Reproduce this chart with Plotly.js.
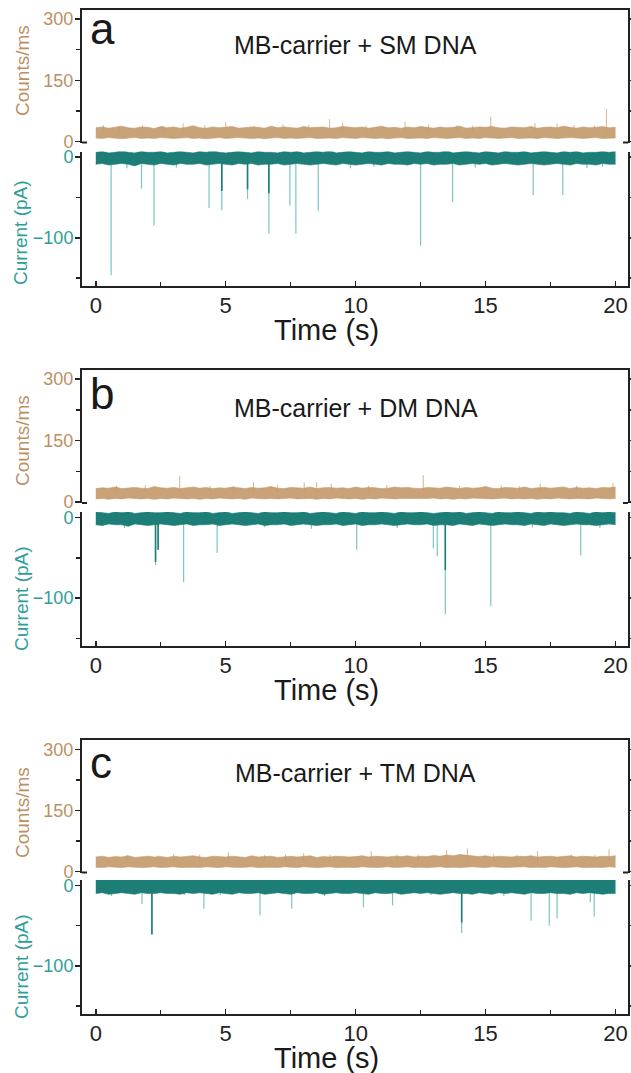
<!DOCTYPE html>
<html>
<head>
<meta charset="utf-8">
<script src="https://cdn.plot.ly/plotly-3.0.1.min.js"></script>
<style>
  html, body { margin: 0; padding: 0; background: #fff; }
  #chart { width: 631px; height: 1073px; }
</style>
</head>
<body>
<div id="chart"></div>
<script>
// ---------------- data ----------------
// Sampling step of the noise envelopes (s); envelopes start at t = 0.
const envelopeStart = 0;
const envelopeStep = 0.25;

const panelLetters = ['a', 'b', 'c'];
const panelTitles = ['MB-carrier + SM DNA', 'MB-carrier + DM DNA', 'MB-carrier + TM DNA'];

const countsTicks = [0, 150, 300];
const countsMinorTicks = [75, 225];
const currentTicks = [0, -100];
const currentMinorTicks = [-50, -150];

// Photon counts (counts/ms): upper / lower envelope of the noise band
const countsHiA = [34,36,33,35,38,34,33,36,35,32, 37,34,36,33,35,39,34,33,36,34, 35,37,33,34,36,35,33,38,34,36,
  35,33,37,34,35,36,33,34,37,35, 34,36,33,35,38,34,35,33,36,34, 37,35,33,36,34,35,38,33,34,36,
  35,37,34,33,36,35,34,37,33,35, 36,34,38,35,33,36,34,35,37,34, 35];
const countsLoA = [9,8,10,9,7,9,10,8,9,8, 10,9,8,9,10,8,9,7,9,10, 8,9,10,9,8,9,7,9,10,8,
  9,8,9,10,8,9,9,8,10,9, 8,10,9,8,9,7,9,10,8,9, 9,8,10,9,8,9,10,8,9,8,
  10,9,8,9,10,8,9,9,8,10, 9,8,9,10,9,8,9,10,8,9, 9];
const countsHiB = [33,35,34,37,33,35,36,34,33,38, 35,34,36,33,35,37,34,36,33,35, 34,37,35,33,36,34,35,38,34,33,
  36,35,34,37,33,35,36,34,35,33, 37,34,36,35,33,34,37,35,36,34, 33,36,35,34,37,35,33,36,34,35,
  38,34,33,36,35,34,37,33,35,36, 34,35,37,33,36,34,35,33,36,35, 37];
const countsLoB = [8,9,7,9,8,10,9,8,9,7, 9,8,10,9,8,9,7,9,8,10, 9,8,9,7,10,9,8,9,8,9,
  10,8,9,9,7,9,8,10,9,8, 9,7,9,8,10,9,8,9,9,8, 8,9,10,8,9,7,9,8,10,9,
  9,8,9,10,8,9,8,9,7,9, 8,10,9,8,9,9,8,10,9,8, 9];
const countsHiC = [36,38,35,37,36,39,35,37,38,36, 37,35,38,36,37,39,36,35,38,37, 36,38,37,35,39,36,37,38,35,37,
  38,36,37,39,35,37,36,38,37,36, 37,39,36,38,37,36,38,37,39,36, 38,37,40,38,41,39,42,40,38,37,
  39,36,38,37,36,38,37,39,36,37, 38,36,37,39,36,38,37,36,38,37, 39];
const countsLoC = [11,10,12,11,10,12,11,10,11,12, 10,11,12,10,11,11,10,12,11,10, 12,11,10,11,12,10,11,11,10,12,
  11,10,12,11,10,11,12,10,11,11, 10,12,11,10,11,12,10,11,12,10, 11,10,11,12,10,11,10,11,12,11,
  10,12,11,10,11,11,12,10,11,10, 12,11,10,11,12,10,11,11,10,12, 11];

// Ionic current (pA): upper / lower envelope of the open-pore noise band
const currentHiA = [6,7,5,6,8,6,5,7,6,6, 7,5,6,7,6,5,7,6,8,6, 5,6,7,6,5,7,6,6,5,7,
  6,7,5,6,7,6,8,5,6,7, 6,5,7,6,6,7,5,6,7,6, 5,7,6,6,8,5,6,7,6,5,
  7,6,5,7,6,6,7,5,6,7, 6,5,7,6,7,5,6,6,7,6, 7];
const currentLoA = [-9,-8,-10,-9,-8,-9,-11,-8,-9,-10, -8,-9,-10,-8,-9,-9,-8,-10,-9,-8, -9,-10,-8,-9,-8,-10,-9,-9,-8,-10,
  -9,-8,-9,-10,-9,-8,-9,-10,-8,-9, -10,-9,-8,-9,-10,-8,-9,-9,-10,-8, -9,-8,-10,-9,-9,-8,-10,-9,-8,-9,
  -8,-10,-9,-8,-9,-10,-9,-8,-9,-10, -9,-8,-9,-10,-8,-9,-9,-10,-8,-9, -9];
const currentHiB = [7,6,5,7,6,7,5,6,7,6, 6,7,6,5,7,6,6,7,5,6, 7,5,6,7,6,5,7,6,6,7,
  6,6,7,5,6,7,6,5,7,6, 5,7,6,6,7,6,5,7,6,6, 7,6,5,6,7,6,7,5,6,7,
  6,5,7,6,6,7,6,5,7,6, 7,6,6,5,7,6,5,7,6,7, 6];
const currentLoB = [-9,-10,-8,-9,-9,-11,-8,-9,-10,-9, -8,-9,-10,-9,-8,-10,-9,-9,-8,-10, -9,-8,-9,-10,-9,-8,-10,-9,-9,-8,
  -10,-9,-8,-9,-10,-9,-9,-8,-10,-9, -8,-10,-9,-9,-8,-9,-10,-9,-8,-9, -9,-8,-10,-9,-9,-10,-8,-9,-10,-8,
  -9,-10,-9,-8,-9,-9,-10,-8,-9,-10, -8,-9,-10,-9,-8,-9,-9,-10,-9,-8, -9];
const currentHiC = [8,7,8,7,8,8,7,8,7,8, 7,8,8,7,8,7,8,8,7,8, 8,7,8,7,8,8,7,8,8,7,
  8,8,7,8,7,8,8,7,8,8, 7,8,8,7,8,8,7,8,7,8, 8,7,8,8,7,8,8,7,8,7,
  8,8,7,8,8,7,8,7,8,8, 7,8,8,7,8,8,7,8,8,7, 8];
const currentLoC = [-10,-9,-11,-10,-9,-10,-11,-9,-10,-10, -9,-10,-10,-11,-9,-10,-9,-10,-11,-9, -10,-11,-9,-10,-10,-9,-11,-10,-9,-10,
  -11,-9,-10,-10,-9,-11,-10,-9,-10,-10, -9,-10,-11,-9,-10,-10,-9,-11,-10,-9, -10,-9,-10,-11,-10,-9,-10,-10,-11,-9,
  -10,-11,-9,-10,-9,-10,-11,-9,-10,-10, -9,-10,-10,-11,-9,-10,-9,-10,-11,-10, -10];

// Translocation events: time (s), blockade peak (pA), deeper-level segment (pA, null if none)
const eventTimeA  = [0.59, 1.20, 1.76, 2.24, 3.10, 4.36, 4.85, 5.84, 6.66, 7.47, 7.70, 8.56, 9.80, 10.70, 12.50, 13.73, 14.60, 16.83, 17.97, 18.90, 19.50];
const eventPeakA  = [-146, -14, -39, -85, -13, -63, -66, -52, -95, -60, -95, -67, -14, -12, -110, -56, -13, -47, -47, -14, -12];
const eventLevelA = [null, null, null, null, null, null, -42, -40, -45, null, null, null, null, null, null, null, null, null, null, null, null];
const eventTimeB  = [1.10, 2.30, 2.40, 3.38, 4.67, 6.50, 8.30, 10.04, 11.60, 12.99, 13.14, 13.45, 15.20, 16.80, 18.66, 19.40];
const eventPeakB  = [-13, -59, -40, -80, -44, -12, -14, -40, -13, -38, -48, -120, -110, -12, -47, -13];
const eventLevelB = [null, -55, -40, null, null, null, null, null, null, null, null, -65, null, null, null, null];
const eventTimeC  = [0.60, 1.78, 2.16, 3.40, 4.16, 4.79, 6.32, 7.54, 8.80, 10.30, 11.42, 12.90, 14.08, 15.70, 16.75, 17.45, 17.75, 19.03, 19.18];
const eventPeakC  = [-13, -23, -61, -12, -29, -12, -37, -29, -13, -27, -25, -12, -59, -13, -44, -50, -41, -21, -39];
const eventLevelC = [null, null, -61, null, null, null, null, null, null, null, null, null, -46, null, null, null, null, null, null];

// Photon bursts: time (s), peak counts/ms
const burstTimeA = [0.30, 0.90, 1.80, 2.60, 3.36, 4.20, 5.00, 6.10, 7.20, 8.20, 9.00, 9.50, 10.40, 11.90, 12.80, 13.90, 14.50, 15.20, 16.90, 17.75, 18.40, 19.20, 19.65];
const burstPeakA = [40, 38, 40, 39, 45, 40, 48, 39, 42, 41, 55, 45, 40, 49, 42, 40, 39, 61, 45, 45, 41, 40, 80];
const burstTimeB = [0.80, 1.90, 3.23, 4.40, 5.30, 6.07, 7.00, 8.02, 8.50, 9.06, 10.50, 11.20, 12.60, 14.00, 15.60, 16.30, 17.10, 18.50, 19.90];
const burstPeakB = [40, 41, 64, 40, 39, 49, 41, 48, 48, 45, 40, 41, 66, 40, 41, 39, 45, 40, 46];
const burstTimeC = [1.20, 2.40, 3.00, 4.00, 5.10, 6.50, 7.30, 8.00, 9.00, 10.60, 11.60, 12.40, 13.50, 14.30, 15.30, 16.20, 17.00, 18.30, 19.20, 19.75];
const burstPeakC = [41, 40, 44, 42, 48, 41, 42, 45, 41, 50, 42, 41, 53, 57, 42, 41, 50, 42, 41, 55];

// ---------------- drawing ----------------
const W = 631, H = 1073;
const FONT = 'Liberation Sans, Arial, Helvetica, sans-serif';
const TAN = '#C49A6C', TAN_TEXT = '#BC9063', TAN_LIGHT = '#D4B592';
const TEAL = '#1C7E77', TEAL_TEXT = '#2E9E96', TEAL_LIGHT = '#7CC6BF';
const INK = '#222222';

const panels = [
  {cHi: countsHiA, cLo: countsLoA, iHi: currentHiA, iLo: currentLoA,
   eT: eventTimeA, eP: eventPeakA, eL: eventLevelA, bT: burstTimeA, bP: burstPeakA},
  {cHi: countsHiB, cLo: countsLoB, iHi: currentHiB, iLo: currentLoB,
   eT: eventTimeB, eP: eventPeakB, eL: eventLevelB, bT: burstTimeB, bP: burstPeakB},
  {cHi: countsHiC, cLo: countsLoC, iHi: currentHiC, iLo: currentLoC,
   eT: eventTimeC, eP: eventPeakC, eL: eventLevelC, bT: burstTimeC, bP: burstPeakC}
];

// pixel frame of each panel: counts box top/bottom, current box top/bottom, text rows
const frames = [
  {cTop: 9.5,  cBot: 142.5, iTop: 151.5, iBot: 285.7, letterY: 28.5, titleY: 45,    countsLabY: 71,  currentLabY: 233, timeY: 330},
  {cTop: 369.5, cBot: 503,  iTop: 512,   iBot: 646,   letterY: 393,  titleY: 407.5, countsLabY: 441, currentLabY: 599, timeY: 690},
  {cTop: 740,  cBot: 872.5, iTop: 880,   iBot: 1013.5, letterY: 762, titleY: 772.5, countsLabY: 813, currentLabY: 967, timeY: 1058}
];
const xLeft = 82, xRight = 628;
const px = v => v / W;
const py = v => 1 - v / H;

function segments(times, ends, base) {
  const x = [], y = [];
  times.forEach((t, k) => {
    if (ends[k] === null || ends[k] === undefined) return;
    x.push(t, t, null);
    y.push(base, ends[k], null);
  });
  return {x, y};
}

const traces = [];
const layout = {
  width: W, height: H,
  margin: {l: 0, r: 0, t: 0, b: 0},
  paper_bgcolor: '#ffffff',
  plot_bgcolor: 'rgba(0,0,0,0)',
  showlegend: false,
  font: {family: FONT, color: INK},
  annotations: [],
  shapes: []
};

panels.forEach((p, i) => {
  const f = frames[i];
  const ci = 2 * i + 1, ki = 2 * i + 2;
  const xi = 'x' + (ci === 1 ? '' : ci), yi = 'y' + (ci === 1 ? '' : ci);
  const xk = 'x' + ki, yk = 'y' + ki;
  const xDom = [px(xLeft), px(xRight)];
  const xRange = [-0.53, 20.48];

  // current subplot (bottom)
  layout['xaxis' + (ci === 1 ? '' : ci)] = {
    domain: xDom, range: xRange, anchor: yi,
    showline: true, linecolor: INK, linewidth: 2,
    ticks: 'inside', ticklen: 5, tickwidth: 1.5, tickcolor: INK,
    tick0: 0, dtick: 5,
    minor: {dtick: 2.5, ticks: 'inside', ticklen: 4, tickwidth: 1.5, tickcolor: INK},
    tickfont: {family: FONT, size: 22, color: INK},
    ticklabelstandoff: -1,
    showgrid: false, zeroline: false, fixedrange: true
  };
  layout['yaxis' + (ci === 1 ? '' : ci)] = {
    domain: [py(f.iBot), py(f.iTop)], range: [-159.3, 6.8], anchor: xi,
    showline: true, linecolor: INK, linewidth: 2, mirror: 'ticks',
    ticks: 'outside', ticklen: 5, tickwidth: 1.5, tickcolor: INK,
    tickmode: 'array', tickvals: currentTicks,
    minor: {tickvals: currentMinorTicks, ticks: 'outside', ticklen: 4, tickwidth: 1.5, tickcolor: INK},
    tickfont: {family: FONT, size: 18, color: TEAL_TEXT},
    ticklabelstandoff: -2,
    showgrid: false, zeroline: false, fixedrange: true
  };

  // counts subplot (top)
  layout['xaxis' + ki] = {
    domain: xDom, range: xRange, anchor: yk, side: 'top',
    showline: true, linecolor: INK, linewidth: 2,
    ticks: '', showticklabels: false,
    showgrid: false, zeroline: false, fixedrange: true
  };
  layout['yaxis' + ki] = {
    domain: [py(f.cBot), py(f.cTop)], range: [-2, 323], anchor: xk,
    showline: true, linecolor: INK, linewidth: 2, mirror: 'ticks',
    ticks: 'outside', ticklen: 5, tickwidth: 1.5, tickcolor: INK,
    tickmode: 'array', tickvals: countsTicks,
    minor: {tickvals: countsMinorTicks, ticks: 'outside', ticklen: 4, tickwidth: 1.5, tickcolor: INK},
    tickfont: {family: FONT, size: 18, color: TAN_TEXT},
    ticklabelstandoff: -2,
    showgrid: false, zeroline: false, fixedrange: true
  };

  // broken-axis hooks at the foot of the counts box
  [[xLeft, xLeft + 5], [xRight - 5, xRight]].forEach(([a, b]) => layout.shapes.push({
    type: 'line', xref: 'paper', yref: 'paper',
    x0: px(a), x1: px(b), y0: py(f.cBot), y1: py(f.cBot),
    line: {color: INK, width: 2}
  }));

  // photon counts: bursts + noise band
  const bursts = segments(p.bT, p.bP, 25);
  traces.push({type: 'scatter', mode: 'lines', x: bursts.x, y: bursts.y, xaxis: xk, yaxis: yk,
    line: {color: TAN_LIGHT, width: 1}, hoverinfo: 'skip'});
  traces.push({type: 'scatter', mode: 'lines', x0: envelopeStart, dx: envelopeStep, y: p.cLo,
    xaxis: xk, yaxis: yk, line: {color: TAN, width: 0.6}, hoverinfo: 'skip'});
  traces.push({type: 'scatter', mode: 'lines', x0: envelopeStart, dx: envelopeStep, y: p.cHi,
    xaxis: xk, yaxis: yk, fill: 'tonexty', fillcolor: 'rgba(196,154,108,0.92)',
    line: {color: TAN, width: 0.6}, hoverinfo: 'skip'});

  // ionic current: blockade events + open-pore noise band
  const events = segments(p.eT, p.eP, -2);
  traces.push({type: 'scatter', mode: 'lines', x: events.x, y: events.y, xaxis: xi, yaxis: yi,
    line: {color: TEAL_LIGHT, width: 1.2}, hoverinfo: 'skip'});
  const levels = segments(p.eT, p.eL, -2);
  traces.push({type: 'scatter', mode: 'lines', x: levels.x, y: levels.y, xaxis: xi, yaxis: yi,
    line: {color: TEAL, width: 1.6}, hoverinfo: 'skip'});
  traces.push({type: 'scatter', mode: 'lines', x0: envelopeStart, dx: envelopeStep, y: p.iLo,
    xaxis: xi, yaxis: yi, line: {color: TEAL, width: 0.6}, hoverinfo: 'skip'});
  traces.push({type: 'scatter', mode: 'lines', x0: envelopeStart, dx: envelopeStep, y: p.iHi,
    xaxis: xi, yaxis: yi, fill: 'tonexty', fillcolor: TEAL,
    line: {color: TEAL, width: 0.6}, hoverinfo: 'skip'});

  // text
  const ann = (text, x, y, size, color, extra) => layout.annotations.push(Object.assign({
    text, xref: 'paper', yref: 'paper', x: px(x), y: py(y),
    xanchor: 'center', yanchor: 'middle', showarrow: false,
    font: {family: FONT, size, color}
  }, extra || {}));
  ann(panelLetters[i], 88, f.letterY, 44, '#1a1a1a', {xanchor: 'left'});
  ann(panelTitles[i], 356, f.titleY, 25, '#1a1a1a');
  ann('Counts/ms', 22, f.countsLabY, 19, TAN_TEXT, {textangle: -90});
  ann('Current (pA)', 21, f.currentLabY, 19, TEAL_TEXT, {textangle: -90});
  ann('Time (s)', 326, f.timeY, 29, '#1a1a1a');
});

Plotly.newPlot('chart', traces, layout, {staticPlot: true, displayModeBar: false});
</script>
</body>
</html>
